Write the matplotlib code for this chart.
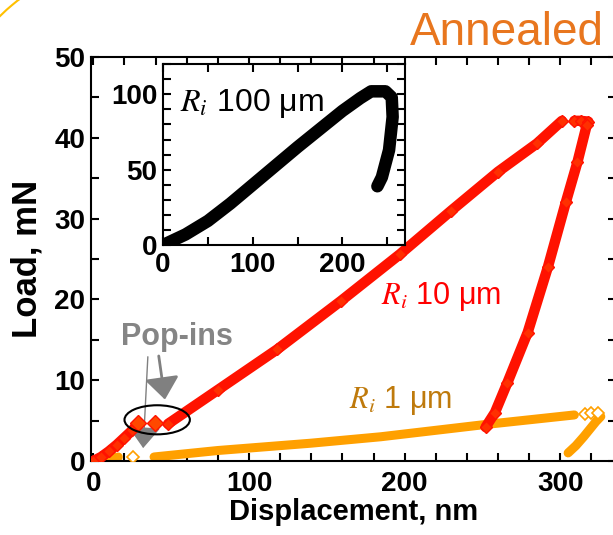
"""
Load-displacement curves of annealed sample for three indenter radii.
"""

import matplotlib
matplotlib.use("Agg")
import matplotlib.pyplot as plt
from matplotlib.patches import Ellipse, Arc
from matplotlib.ticker import MultipleLocator

plt.rcParams['font.family'] = ['Liberation Sans', 'DejaVu Sans']
plt.rcParams['mathtext.fontset'] = 'stix'

# R_i = 10 um curve (nm, mN)
red_load_x = [0, 5, 10, 15, 20, 25, 28.5]
red_load_y = [0, 0.5, 1.2, 2.0, 2.9, 3.8, 4.6]
red_popin_x = [28.6, 39.6]
red_popin_y = [4.7, 4.7]
red_load2_x = [48, 80, 118, 159, 197, 230, 260, 285, 301]
red_load2_y = [4.6, 8.8, 13.8, 19.8, 25.6, 31.0, 35.8, 39.3, 42.1]
red_hold_x = [309, 313, 318]
red_hold_y = [42.1, 42.1, 42.0]
red_unload_x = [317, 311, 303.5, 292, 279, 266, 258, 252]
red_unload_y = [41.6, 37.0, 32.0, 24.0, 15.9, 9.7, 6.0, 4.2]

# R_i = 1 um curve
org_load_x = [0, 5, 10, 16]
org_load_y = [0, 0.1, 0.25, 0.5]
org_popin_x = [25.7]
org_popin_y = [0.5]
org_load2_x = [39, 80, 139.5, 184.6, 251, 309]
org_load2_y = [0.5, 1.3, 2.2, 3.0, 4.5, 5.7]
org_hold_x = [316, 320, 324]
org_hold_y = [5.8, 5.9, 5.9]
org_unload_x = [326, 323, 315, 310, 305]
org_unload_y = [5.5, 4.9, 3.0, 1.9, 1.0]

# R_i = 100 um curve (inset)
blk_x = [0, 25, 50, 75, 100, 125, 150, 175, 200, 220, 232, 248, 255, 256, 252, 244, 239]
blk_y = [0, 7, 16, 27.5, 40, 52.5, 65, 77, 89, 97.5, 102, 102, 98, 85, 63, 45, 39]

RED = '#FF1200'
RED_FACE = '#FF4800'
ORANGE = '#FFA000'


def style_axes(ax, fs):
    ax.tick_params(which='both', direction='in', top=True, right=True,
                   length=6, width=1.5, labelsize=fs)
    ax.tick_params(axis='x', pad=7)
    ax.tick_params(axis='y', pad=4)
    for lab in ax.get_xticklabels() + ax.get_yticklabels():
        lab.set_fontweight('bold')
    for sp in ax.spines.values():
        sp.set_linewidth(1.5)


fig = plt.figure(figsize=(6.13, 5.35), dpi=100)
ax = fig.add_axes([0.1485, 0.1383, 0.857, 0.7552])

# red curve
for xs, ys in [(red_load_x, red_load_y), (red_load2_x, red_load2_y),
               (red_hold_x, red_hold_y), (red_unload_x, red_unload_y)]:
    ax.plot(xs, ys, '-', color=RED, lw=7.5, solid_capstyle='round', zorder=3)
    ax.plot(xs, ys, 'D', ms=6, mfc='#FF3000', mec=RED, mew=1, zorder=4)
ax.plot(red_popin_x, red_popin_y, 'D', ms=8, mfc=RED_FACE, mec=RED, mew=1, zorder=4)

# orange curve
for xs, ys in [(org_load_x, org_load_y), (org_load2_x, org_load2_y),
               (org_unload_x, org_unload_y)]:
    ax.plot(xs, ys, '-', color=ORANGE, lw=6.5, solid_capstyle='round', zorder=2)
ax.plot(org_popin_x, org_popin_y, 'D', ms=6, mfc='white', mec=ORANGE, mew=1.2, zorder=4)
ax.plot(org_hold_x, org_hold_y, 'D', ms=6, mfc='white', mec=ORANGE, mew=1.2, zorder=2)

ax.set_xlim(-1.5, 336)
ax.set_ylim(0, 50)
ax.xaxis.set_major_locator(MultipleLocator(100))
ax.xaxis.set_minor_locator(MultipleLocator(20))
ax.yaxis.set_major_locator(MultipleLocator(10))
ax.yaxis.set_minor_locator(MultipleLocator(5))
style_axes(ax, 20)
ax.set_xlabel('Displacement, nm', fontsize=21, fontweight='bold', labelpad=1)
ax.set_ylabel('Load, mN', fontsize=25, fontweight='bold', labelpad=8)

ax.text(184.6, 19.4, r'$R_i$ 10 μm', color='#FF0000', fontsize=22)
ax.text(164, 6.6, r'$R_i$ 1 μm', color='#BF7A0C', fontsize=22)

# pop-in annotation
ax.add_patch(Ellipse((41, 5.1), 42, 3.6, fill=False, ec='black', lw=1.5, zorder=5))
ax.text(54, 15.3, 'Pop-ins', color='#858585', fontsize=22, fontweight='bold',
        ha='center', va='center')
ax.annotate('', xy=(46, 7.6), xytext=(42, 13.0),
            arrowprops=dict(arrowstyle='-|>,head_length=0.45,head_width=0.35',
                            color='#808080', lw=2, mutation_scale=30,
                            shrinkA=0, shrinkB=0))
ax.annotate('', xy=(32, 1.6), xytext=(35, 12.9),
            arrowprops=dict(arrowstyle='-|>,head_length=0.45,head_width=0.35',
                            color='#808080', lw=1, mutation_scale=30,
                            shrinkA=0, shrinkB=0))

# inset
ins = fig.add_axes([0.266, 0.542, 0.395, 0.338])
ins.plot(blk_x, blk_y, '-', color='black', lw=9, solid_capstyle='round',
         solid_joinstyle='round')
ins.set_xlim(0, 270)
ins.set_ylim(0, 120)
ins.xaxis.set_major_locator(MultipleLocator(100))
ins.xaxis.set_minor_locator(MultipleLocator(50))
ins.yaxis.set_major_locator(MultipleLocator(50))
ins.yaxis.set_minor_locator(MultipleLocator(10))
style_axes(ins, 20)
ins.tick_params(axis='x', pad=5)
ins.text(19, 88.7, r'$R_i$ 100 μm', color='black', fontsize=23)

fig.text(0.985, 0.915, 'Annealed', color='#E8761E', fontsize=33, ha='right',
         va='baseline')

# decorative yellow arc in the corner
fig.add_artist(Arc((150, 365), 430, 430, theta1=115, theta2=145,
                   color='#FFC000', lw=1.5, transform=None))

fig.savefig('out.png', dpi=100)
